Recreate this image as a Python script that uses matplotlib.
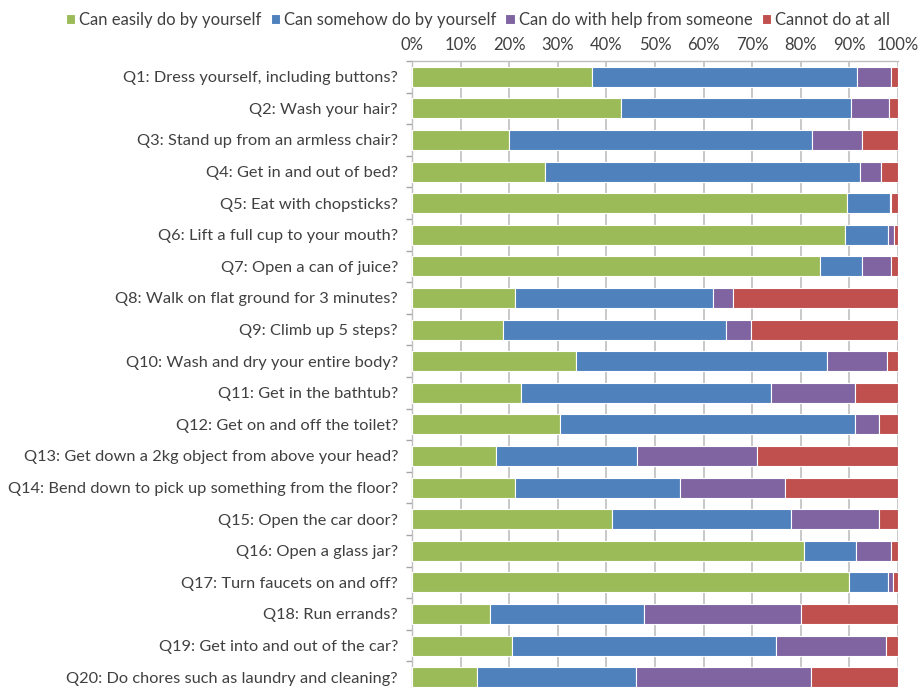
import matplotlib
matplotlib.use("Agg")
import matplotlib.pyplot as plt
import numpy as np

questions = [
    "Q1: Dress yourself, including buttons?",
    "Q2: Wash your hair?",
    "Q3: Stand up from an armless chair?",
    "Q4: Get in and out of bed?",
    "Q5: Eat with chopsticks?",
    "Q6: Lift a full cup to your mouth?",
    "Q7: Open a can of juice?",
    "Q8: Walk on flat ground for 3 minutes?",
    "Q9: Climb up 5 steps?",
    "Q10: Wash and dry your entire body?",
    "Q11: Get in the bathtub?",
    "Q12: Get on and off the toilet?",
    "Q13: Get down a 2kg object from above your head?",
    "Q14: Bend down to pick up something from the floor?",
    "Q15: Open the car door?",
    "Q16: Open a glass jar?",
    "Q17: Turn faucets on and off?",
    "Q18: Run errands?",
    "Q19: Get into and out of the car?",
    "Q20: Do chores such as laundry and cleaning?",
]

categories = [
    "Can easily do by yourself",
    "Can somehow do by yourself",
    "Can do with help from someone",
    "Cannot do at all",
]

# percent of respondents per answer, one list per category
easily = [37.0, 43.1, 20.0, 27.4, 89.5, 89.0, 84.0, 21.1, 18.8, 33.7,
          22.5, 30.4, 17.3, 21.1, 41.1, 80.7, 89.9, 16.0, 20.6, 13.3]
somehow = [54.6, 47.3, 62.3, 64.7, 8.8, 8.9, 8.5, 40.9, 45.9, 51.7,
           51.4, 60.8, 29.0, 34.0, 36.8, 10.7, 8.0, 31.7, 54.2, 32.8]
with_help = [7.0, 7.7, 10.2, 4.5, 0.3, 1.3, 6.1, 4.0, 5.1, 12.3,
             17.3, 4.9, 24.6, 21.7, 18.1, 7.2, 1.1, 32.4, 22.7, 35.9]
cannot = [1.4, 1.9, 7.5, 3.4, 1.4, 0.8, 1.4, 34.0, 30.2, 2.3,
          8.8, 3.9, 29.1, 23.2, 4.0, 1.4, 1.0, 19.9, 2.5, 18.0]

colors = ["#9BBB59", "#4F81BD", "#8064A2", "#C0504D"]
text_color = "#404040"

plt.rcParams["font.family"] = ["Lato", "DejaVu Sans"]

fig = plt.figure(figsize=(9.21, 6.88), dpi=100)
ax = fig.add_axes([412 / 921, -5 / 688, 486 / 921, 632 / 688])

y = np.arange(len(questions))
left = np.zeros(len(questions))
for series, color, label in zip([easily, somehow, with_help, cannot], colors, categories):
    ax.barh(y, series, left=left, height=0.63, color=color, edgecolor="white",
            linewidth=0.8, label=label, zorder=3)
    left += np.array(series)

ax.set_xlim(0, 100)
ax.set_ylim(len(questions) - 0.5, -0.5)
ax.set_xticks(np.arange(0, 101, 10))
ax.set_xticklabels([f"{v}%" for v in range(0, 101, 10)])
ax.xaxis.tick_top()
ax.tick_params(axis="x", length=0, pad=6, labelsize=12, labelcolor=text_color)
ax.grid(axis="x", color="#BFBFBF", linewidth=1.2, zorder=0)

ax.set_yticks(y)
ax.set_yticklabels(questions)
ax.set_yticks(np.arange(-0.5, len(questions), 1), minor=True)
ax.tick_params(axis="y", which="major", length=0, pad=10, labelsize=11.8,
               labelcolor=text_color)
ax.tick_params(axis="y", which="minor", length=4, color="#A6A6A6", width=1)

for side in ["right", "bottom"]:
    ax.spines[side].set_visible(False)
for side in ["left", "top"]:
    ax.spines[side].set_color("#BFBFBF")
    ax.spines[side].set_linewidth(1)

fig.legend(loc="upper left", bbox_to_anchor=(54 / 921, 1.0), ncol=4,
           frameon=False, fontsize=12, handlelength=0.55, handleheight=0.55,
           handletextpad=0.25, columnspacing=0.55, labelcolor=text_color,
           borderaxespad=0.3)

fig.savefig("out.png", dpi=100)
